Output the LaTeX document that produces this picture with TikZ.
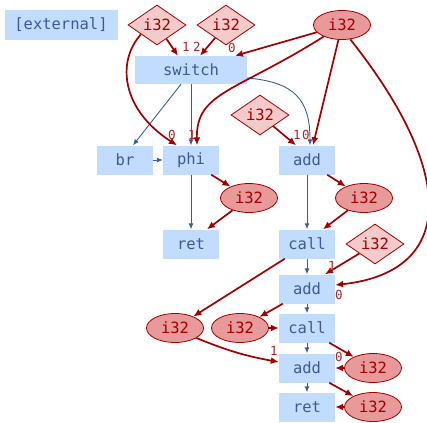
\documentclass[tikz,border=0pt]{standalone}
\usepackage{fontspec}
\setmonofont{DejaVu Sans Mono}
\usetikzlibrary{shapes,arrows.meta,positioning}
\definecolor{boxfill}{HTML}{C2DCFF}
\definecolor{boxtext}{HTML}{3D5A96}
\definecolor{flowblue}{HTML}{3A5C9C}
\definecolor{datared}{HTML}{A00000}
\definecolor{constfill}{HTML}{F5CACA}
\definecolor{valfill}{HTML}{E89999}
\tikzset{
  instr/.style={rectangle,fill=boxfill,text=boxtext,minimum width=56pt,minimum height=29pt,inner sep=1pt,font=\ttfamily\fontsize{15.5}{18}\selectfont},
  const/.style={diamond,aspect=1.45,draw=datared,line width=0.8pt,fill=constfill,text=datared,minimum width=58pt,minimum height=40pt,inner sep=0.5pt,font=\ttfamily\fontsize{15.5}{18}\selectfont},
  val/.style={ellipse,draw=datared,line width=0.8pt,fill=valfill,text=datared,minimum width=57pt,minimum height=29pt,inner sep=1pt,font=\ttfamily\fontsize{15.5}{18}\selectfont},
  flow/.style={draw=flowblue,line width=0.9pt,-{Latex[length=6pt,width=5pt]}},
  data/.style={draw=datared,line width=1.7pt,-{Latex[length=8pt,width=7pt]}},
  port/.style={text=datared!85,inner sep=0pt,font=\ttfamily\fontsize{12.5}{14}\selectfont}
}
\begin{document}
\begin{tikzpicture}[x=1pt,y=1pt]
    \useasboundingbox (0,0) rectangle (427,-422);
    \node[instr,minimum width=113pt,minimum height=30pt] (ext) at (61,-25) {[external]};
    \node[const] (c1) at (157,-25) {i32};
    \node[const] (c2) at (226,-25) {i32};
    \node[val] (v1) at (342,-25) {i32};
    \node[instr,minimum width=112pt,minimum height=28pt] (sw) at (191,-70) {switch};
    \node[instr] (br) at (125,-160) {br};
    \node[instr] (phi) at (191,-160) {phi};
    \node[const] (c3) at (260,-115) {i32};
    \node[instr] (add1) at (307,-160) {add};
    \node[val] (v2) at (249,-198) {i32};
    \node[val] (v3) at (364,-198) {i32};
    \node[instr] (ret1) at (191,-244) {ret};
    \node[instr] (call1) at (307,-244) {call};
    \node[const] (c4) at (375,-244) {i32};
    \node[instr] (add2) at (307,-289) {add};
    \node[val] (v4) at (175,-328) {i32};
    \node[val] (v5) at (240,-328) {i32};
    \node[instr] (call2) at (307,-328) {call};
    \node[instr] (add3) at (307,-368) {add};
    \node[val] (v6) at (373,-368) {i32};
    \node[instr] (ret2) at (307,-407) {ret};
    \node[val] (v7) at (373,-407) {i32};
    \draw[flow] ([xshift=-10pt]sw.south) -- ([xshift=8pt]br.north);
    \draw[flow] (sw.south) -- (phi.north);
    \draw[flow] ([yshift=-8pt]sw.east) .. controls (295,-82) and (310,-100) .. ([xshift=3pt]add1.north);
    \draw[flow] (br) -- (phi);
    \draw[flow] (phi) -- (ret1);
    \draw[flow] (add1) -- (call1);
    \draw[flow] (call1) -- (add2);
    \draw[flow] (add2) -- (call2);
    \draw[flow] (call2) -- (add3);
    \draw[flow] (add3) -- (ret2);
    \draw[data] (c1) -- ([xshift=-13pt]sw.north);
    \draw[data] (c2) -- ([xshift=9pt]sw.north);
    \draw[data] (v1) -- ([xshift=44pt]sw.north);
    \draw[data] (c1.210) .. controls (116,-62) and (122,-110) .. ([xshift=-14pt]phi.north);
    \draw[data] (v1) .. controls (236,-92) and (196,-92) .. ([xshift=6pt]phi.north);
    \draw[data] (c3) -- ([xshift=-11pt]add1.north);
    \draw[data] (v1) -- ([xshift=6pt]add1.north);
    \draw[data] (v1.-60) .. controls (458,-175) and (455,-272) .. ([yshift=4pt]add2.east);
    \draw[data] ([xshift=-8pt]phi.south east) -- (v2);
    \draw[data] (v2) -- ([xshift=16pt]ret1.north);
    \draw[data] ([xshift=-8pt]add1.south east) -- (v3);
    \draw[data] (v3) -- ([xshift=16pt]call1.north);
    \draw[data] ([xshift=6pt]call1.south west) -- (v4);
    \draw[data] (c4) -- ([xshift=18pt]add2.north);
    \draw[data] ([xshift=4pt]add2.south west) -- (v5);
    \draw[data] (v5) -- (call2);
    \draw[data] (v4.-25) to[bend right=6] ([yshift=6pt]add3.west);
    \draw[data] ([xshift=-6pt]call2.south east) -- (v6);
    \draw[data] (v6) -- (add3);
    \draw[data] ([xshift=-6pt]add3.south east) -- (v7);
    \draw[data] (v7) -- (ret2);
    \node[port] (p1) at (186,-47) {1};
    \node[port] (p2) at (197,-47) {2};
    \node[port] (p3) at (232,-48) {0};
    \node[port] (p4) at (172,-135) {0};
    \node[port] (p5) at (192,-135) {1};
    \node[port] (p6) at (297,-135) {1};
    \node[port] (p7) at (306,-135) {0};
    \node[port] (p8) at (332,-266) {1};
    \node[port] (p9) at (339,-295) {0};
    \node[port] (p10) at (274,-351) {1};
    \node[port] (p11) at (339,-357) {0};
\end{tikzpicture}
\end{document}
